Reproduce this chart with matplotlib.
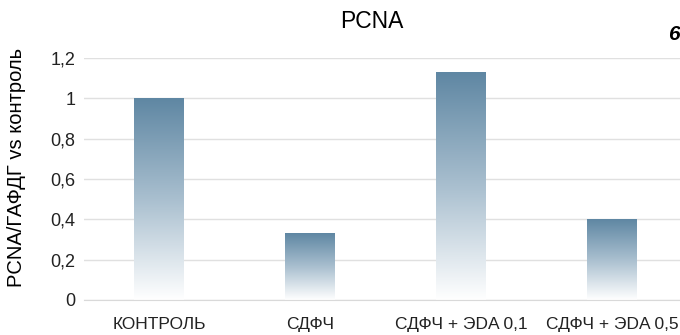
import matplotlib
matplotlib.use('Agg')
import matplotlib.pyplot as plt
import numpy as np
from matplotlib.colors import LinearSegmentedColormap

plt.rcParams['font.family'] = ['Liberation Sans', 'DejaVu Sans']

categories = ['КОНТРОЛЬ', 'СДФЧ', 'СДФЧ + ЭDA 0,1', 'СДФЧ + ЭDA 0,5']
values = [1.0, 0.33, 1.13, 0.40]
yticks = [0, 0.2, 0.4, 0.6, 0.8, 1.0, 1.2]
ytick_labels = ['0', '0,2', '0,4', '0,6', '0,8', '1', '1,2']


def main():
    fig = plt.figure(figsize=(6.8, 3.35), dpi=100)
    ax = fig.add_axes([83.5 / 680, 35 / 335, 604 / 680, 242 / 335])

    x = np.arange(len(categories))
    bars = ax.bar(x, values, width=0.33, color='none', zorder=2)

    # вертикальный градиент внутри каждого столбца
    cmap = LinearSegmentedColormap.from_list('grad', ['#ffffff', '#a9bfcf', '#5f87a3'])
    grad = np.linspace(0, 1, 256).reshape(-1, 1)
    for b in bars:
        x0, w, h = b.get_x(), b.get_width(), b.get_height()
        im = ax.imshow(grad, cmap=cmap, origin='lower', aspect='auto',
                       extent=[x0, x0 + w, 0, h], zorder=2)
        im.set_clip_path(b)

    ax.set_xlim(-0.5, 3.5)
    ax.set_ylim(0, 1.2)
    ax.set_yticks(yticks)
    ax.set_yticklabels(ytick_labels, fontsize=13)
    ax.set_xticks(x)
    ax.set_xticklabels(categories, fontsize=12.5)
    ax.tick_params(axis='both', length=0, colors='#222222')
    ax.tick_params(axis='x', pad=12)
    ax.tick_params(axis='y', pad=6)
    ax.grid(axis='y', color='#e0e0e0', linewidth=1.0, zorder=0)
    ax.set_axisbelow(True)
    for s in ['top', 'right', 'left']:
        ax.spines[s].set_visible(False)
    ax.spines['bottom'].set_color('#d9d9d9')

    ax.set_ylabel('PCNA/ГАФДГ vs контроль', fontsize=14.5)
    ax.yaxis.set_label_coords(-57 / 604, 0.547)
    fig.text(372 / 680, 1 - 22 / 335, 'PCNA', fontsize=16.5, ha='center', va='center')
    fig.text(1.0, 1 - 35 / 335, '6', fontsize=15, fontweight='bold', fontstyle='italic',
             ha='right', va='center')

    fig.savefig('out.png', dpi=100)


main()
